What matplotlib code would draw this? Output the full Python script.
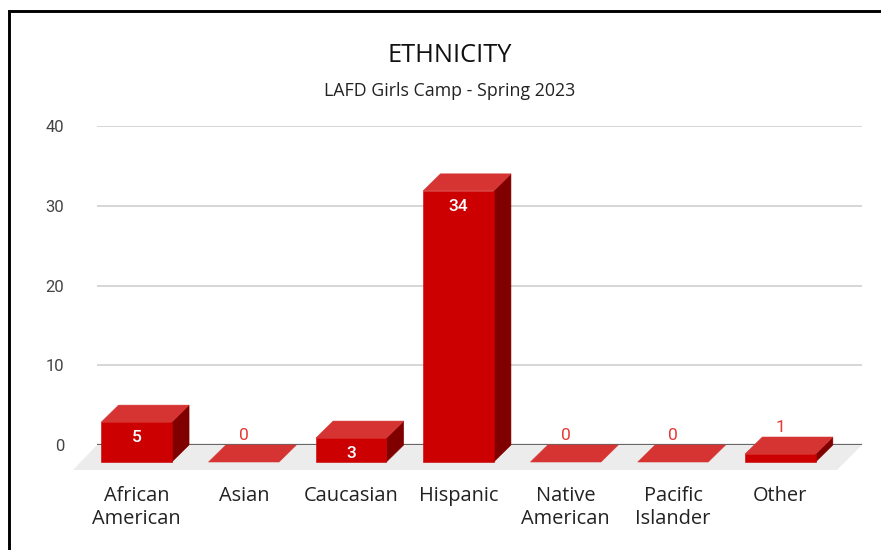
import matplotlib
matplotlib.use('Agg')
import matplotlib.pyplot as plt
from matplotlib.lines import Line2D
from matplotlib.patches import Polygon

# Chart data
categories = ['African\nAmerican', 'Asian', 'Caucasian', 'Hispanic',
              'Native\nAmerican', 'Pacific\nIslander', 'Other']
counts = [5, 0, 3, 34, 0, 0, 1]
y_ticks = [0, 10, 20, 30, 40]

# Colours of the 3D faces
FRONT = '#cc0000'
TOP = '#d63333'
SIDE = '#800000'
FLOOR = '#ececec'

W, H = 881, 550
fig = plt.figure(figsize=(W / 100, H / 100), dpi=100)

# Plot area in pixels: x 97-862, y=0 at 445, y=40 at 126
left, right, y0_px, y40_px = 97, 862, 445, 126
ax = fig.add_axes([left / W, 1 - y0_px / H, (right - left) / W, (y0_px - y40_px) / H])
ax.set_ylim(0, 40)

# Category slots are 107.3 px apart, first centre at x=136.3
step = 107.3
ax.set_xlim((left - 136.5) / step, (right - 136.5) / step)
px_x = 1 / step                    # one pixel in x data units
px_y = 40 / (y0_px - y40_px)       # one pixel in y data units

bar_w = 70.5 * px_x
dx = 17.3 * px_x                   # depth of the bars
dy = 17 * px_y
base = -dy                         # front edge of the bars sits below the zero line

# Floor under the bars
x_a, x_b = ax.get_xlim()
ax.add_patch(Polygon([(x_a, 0), (x_b, 0), (x_b - 25 * px_x, -25 * px_y), (x_a - 24 * px_x, -25 * px_y)],
                     fc=FLOOR, ec='none', clip_on=False, zorder=1))

ax.axhline(0, color='#666666', lw=1.6, zorder=2)
ax.set_yticks(y_ticks)
ax.grid(axis='y', color='#cccccc', lw=1.1, zorder=0)
ax.set_axisbelow(True)

for i, v in enumerate(counts):
    x1, x2 = i - bar_w / 2, i + bar_w / 2
    top = base + v
    # Side, top and front faces (thin same-colour edge hides the seams)
    if v > 0:
        ax.add_patch(Polygon([(x2, base), (x2 + dx, base + dy), (x2 + dx, top + dy), (x2, top)],
                             fc=SIDE, ec=SIDE, lw=0.4, clip_on=False, zorder=3))
    ax.add_patch(Polygon([(x1, top), (x2, top), (x2 + dx, top + dy), (x1 + dx, top + dy)],
                         fc=TOP, ec=TOP, lw=0.4, clip_on=False, zorder=3))
    if v > 0:
        ax.add_patch(Polygon([(x1, base), (x2, base), (x2, top), (x1, top)],
                             fc=FRONT, ec=FRONT, lw=0.4, clip_on=False, zorder=4))
    # Value labels: white inside tall enough bars, red above the others
    if v >= 3:
        ax.annotate(str(v), (i, top), xytext=(0, -15.5 * 0.72), textcoords='offset points',
                    ha='center', va='center', color='white', fontsize=12.5,
                    fontweight='medium', family='Roboto', zorder=5)
    else:
        ax.annotate(str(v), (i, top + dy), xytext=(0, 10 * 0.72), textcoords='offset points',
                    ha='center', va='center', color='#e53935', fontsize=12.5,
                    family='Roboto', zorder=5)

ax.set_xticks(range(len(categories)))
ax.set_xticklabels(categories, family='Open Sans', fontsize=14.4, color='#222222', linespacing=1.2)
ax.tick_params(axis='x', length=0, pad=29.5)
ax.tick_params(axis='y', length=0, pad=23.5, labelsize=12, labelcolor='#444444')
for lab in ax.get_yticklabels():
    lab.set_family('Roboto')
for s in ax.spines.values():
    s.set_visible(False)

# Titles
fig.text(450 / W, 1 - 55 / H, 'ETHNICITY', family='Open Sans', fontsize=18.3, color='#111111',
         ha='center', va='center')
fig.text(449.5 / W, 1 - 91 / H, 'LAFD Girls Camp - Spring 2023', family='Open Sans', fontsize=12.75,
         color='#222222', ha='center', va='center')

# Black frame of the screenshot, top and left only
fig.add_artist(Line2D([9.3 / W, 9.3 / W, 1], [0, 1 - 11.3 / H, 1 - 11.3 / H], color='black', lw=2.1,
                      solid_joinstyle='miter'))

fig.savefig('out.png', dpi=100)
